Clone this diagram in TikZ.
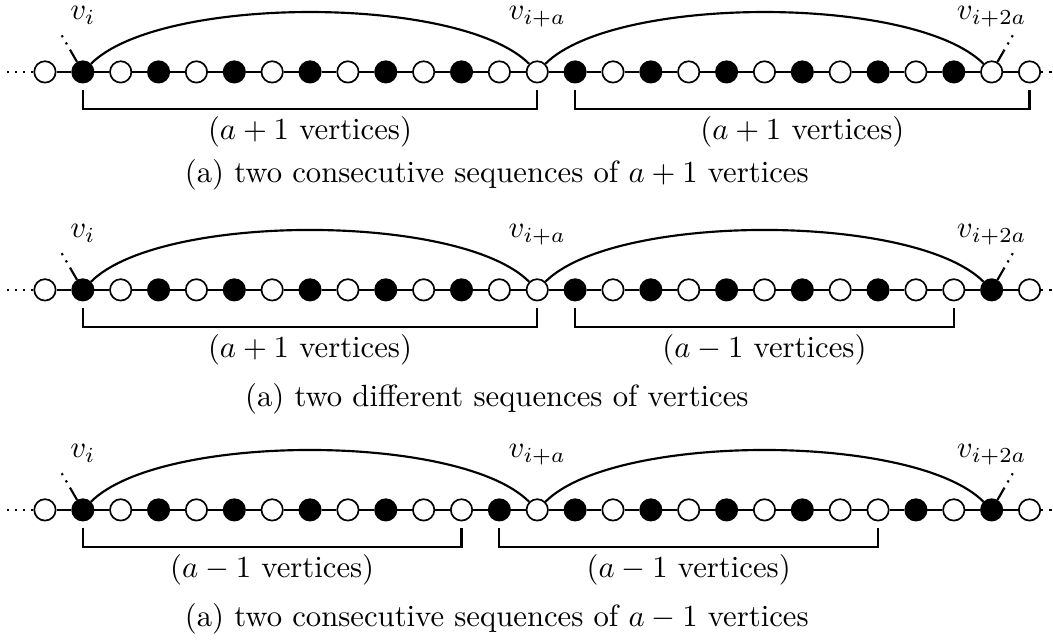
\documentclass[tikz,border=0pt]{standalone}
\usepackage{amsmath}
\usepackage{tikz}
\usetikzlibrary{calc}
\tikzset{
  wv/.style={circle, draw, fill=white, minimum size=0.245cm, inner sep=0pt, line width=0.55pt},
  bv/.style={circle, draw, fill=black, minimum size=0.245cm, inner sep=0pt, line width=0.55pt},
  ln/.style={line width=0.7pt},
  brk/.style={line width=0.7pt},
  lbl/.style={anchor=base},
}

\begin{document}
\begin{tikzpicture}
  \useasboundingbox (0,0) rectangle (12.06,-7.34);
  % ---------- row (a): y = -0.824
  \foreach \k in {0,2,4,6,8,10,12,13,15,17,19,21,23,25,26}
    \node[wv] (a\k) at ({0.515+0.4337*\k},-0.824){};
  \foreach \k in {1,3,5,7,9,11,14,16,18,20,22,24}
    \node[bv] (a\k) at ({0.515+0.4337*\k},-0.824){};
  \foreach \k [count=\n from 1] in {0,...,25}
    \draw[ln] (a\k) -- (a\n);
  \draw[ln, dotted] (a0) -- ++(-0.43,0);
  \draw[ln, dotted] (a26) -- ++(0.43,0);
  \draw[ln] (a1) -- ++(120:0.27) coordinate (ta1);
  \draw[ln, dotted] (ta1) -- ++(120:0.22);
  \draw[ln] (a25) -- ++(60:0.27) coordinate (ta25);
  \draw[ln, dotted] (ta25) -- ++(60:0.25);
  \draw[ln] (a1) .. controls +(45:1.25) and +(135:1.25) .. (a13);
  \draw[ln] (a13) .. controls +(45:1.25) and +(135:1.25) .. (a25);
  \node[lbl] (va1) at ($(a1)+(0,0.595)$) {$v_i$};
  \node[lbl] (va13) at ($(a13)+(0,0.595)$) {$v_{i+a}$};
  \node[lbl] (va25) at ($(a25)+(0,0.595)$) {$v_{i+2a}$};
  \draw[brk] ($(a1)+(0,-0.206)$) -- ($(a1)+(0,-0.424)$) -- ($(a13)+(0,-0.424)$) -- ($(a13)+(0,-0.206)$);
  \draw[brk] ($(a14)+(0,-0.206)$) -- ($(a14)+(0,-0.424)$) -- ($(a26)+(0,-0.424)$) -- ($(a26)+(0,-0.206)$);
  \node[lbl] (sa1) at ($(a1)!0.5!(a13)+(0,-0.779)$) {($a+1$ vertices)};
  \node[lbl] (sa2) at ($(a14)!0.5!(a26)+(0,-0.779)$) {($a+1$ vertices)};
  \node[lbl] (capa) at (5.69,-2.09) {(a) two consecutive sequences of $a+1$ vertices};

  % ---------- row (b): y = -3.32
  \foreach \k in {0,2,4,6,8,10,12,13,15,17,19,21,23,24,26}
    \node[wv] (b\k) at ({0.515+0.4337*\k},-3.32){};
  \foreach \k in {1,3,5,7,9,11,14,16,18,20,22,25}
    \node[bv] (b\k) at ({0.515+0.4337*\k},-3.32){};
  \foreach \k [count=\n from 1] in {0,...,25}
    \draw[ln] (b\k) -- (b\n);
  \draw[ln, dotted] (b0) -- ++(-0.43,0);
  \draw[ln, dotted] (b26) -- ++(0.43,0);
  \draw[ln] (b1) -- ++(120:0.27) coordinate (tb1);
  \draw[ln, dotted] (tb1) -- ++(120:0.22);
  \draw[ln] (b25) -- ++(60:0.27) coordinate (tb25);
  \draw[ln, dotted] (tb25) -- ++(60:0.25);
  \draw[ln] (b1) .. controls +(45:1.25) and +(135:1.25) .. (b13);
  \draw[ln] (b13) .. controls +(45:1.25) and +(135:1.25) .. (b25);
  \node[lbl] (vb1) at ($(b1)+(0,0.595)$) {$v_i$};
  \node[lbl] (vb13) at ($(b13)+(0,0.595)$) {$v_{i+a}$};
  \node[lbl] (vb25) at ($(b25)+(0,0.595)$) {$v_{i+2a}$};
  \draw[brk] ($(b1)+(0,-0.206)$) -- ($(b1)+(0,-0.424)$) -- ($(b13)+(0,-0.424)$) -- ($(b13)+(0,-0.206)$);
  \draw[brk] ($(b14)+(0,-0.206)$) -- ($(b14)+(0,-0.424)$) -- ($(b24)+(0,-0.424)$) -- ($(b24)+(0,-0.206)$);
  \node[lbl] (sb1) at ($(b1)!0.5!(b13)+(0,-0.779)$) {($a+1$ vertices)};
  \node[lbl] (sb2) at ($(b14)!0.5!(b24)+(0,-0.779)$) {($a-1$ vertices)};
  \node[lbl] (capb) at (5.69,-4.66) {(a) two different sequences of vertices};

  % ---------- row (c): y = -5.84
  \foreach \k in {0,2,4,6,8,10,11,13,15,17,19,21,22,24,26}
    \node[wv] (c\k) at ({0.515+0.4337*\k},-5.84){};
  \foreach \k in {1,3,5,7,9,12,14,16,18,20,23,25}
    \node[bv] (c\k) at ({0.515+0.4337*\k},-5.84){};
  \foreach \k [count=\n from 1] in {0,...,25}
    \draw[ln] (c\k) -- (c\n);
  \draw[ln, dotted] (c0) -- ++(-0.43,0);
  \draw[ln, dotted] (c26) -- ++(0.43,0);
  \draw[ln] (c1) -- ++(120:0.27) coordinate (tc1);
  \draw[ln, dotted] (tc1) -- ++(120:0.22);
  \draw[ln] (c25) -- ++(60:0.27) coordinate (tc25);
  \draw[ln, dotted] (tc25) -- ++(60:0.25);
  \draw[ln] (c1) .. controls +(45:1.25) and +(135:1.25) .. (c13);
  \draw[ln] (c13) .. controls +(45:1.25) and +(135:1.25) .. (c25);
  \node[lbl] (vc1) at ($(c1)+(0,0.595)$) {$v_i$};
  \node[lbl] (vc13) at ($(c13)+(0,0.595)$) {$v_{i+a}$};
  \node[lbl] (vc25) at ($(c25)+(0,0.595)$) {$v_{i+2a}$};
  \draw[brk] ($(c1)+(0,-0.206)$) -- ($(c1)+(0,-0.424)$) -- ($(c11)+(0,-0.424)$) -- ($(c11)+(0,-0.206)$);
  \draw[brk] ($(c12)+(0,-0.206)$) -- ($(c12)+(0,-0.424)$) -- ($(c22)+(0,-0.424)$) -- ($(c22)+(0,-0.206)$);
  \node[lbl] (sc1) at ($(c1)!0.5!(c11)+(0,-0.779)$) {($a-1$ vertices)};
  \node[lbl] (sc2) at ($(c12)!0.5!(c22)+(0,-0.779)$) {($a-1$ vertices)};
  \node[lbl] (capc) at (5.69,-7.18) {(a) two consecutive sequences of $a-1$ vertices};
\end{tikzpicture}
\end{document}
